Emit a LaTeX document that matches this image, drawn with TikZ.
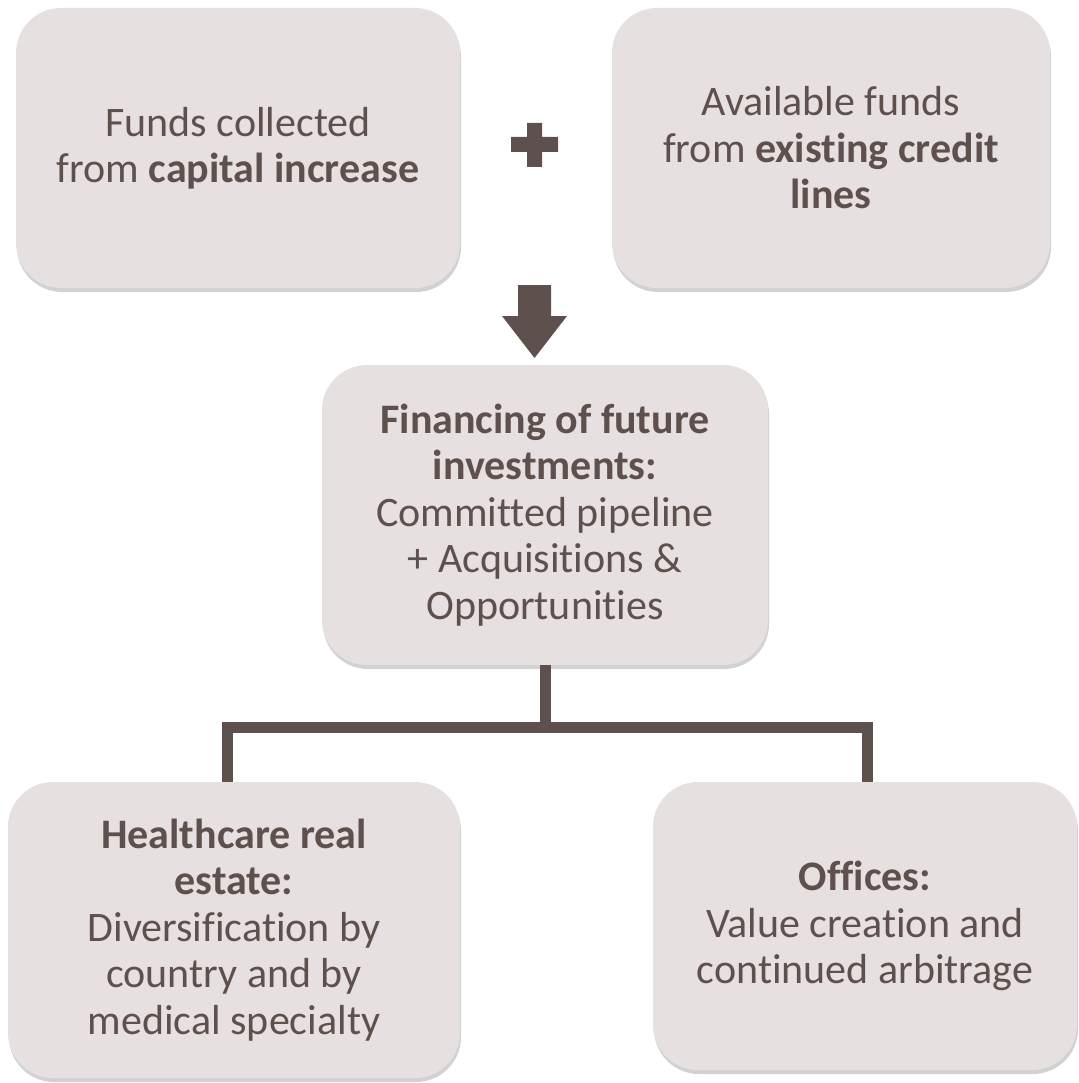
\documentclass[tikz,border=0pt]{standalone}
\usepackage{fontspec}
\setmainfont{Carlito}[Ligatures=NoCommon]
\usetikzlibrary{shadows}
\definecolor{boxfill}{HTML}{E6E0E0}
\definecolor{ink}{HTML}{5E504D}
\begin{document}
\begin{tikzpicture}[x=1pt,y=1pt,
  box/.style={rectangle, rounded corners=45pt, fill=boxfill, draw=none, text=ink,
    align=center, inner sep=0pt,
    font=\fontsize{42}{46.5}\selectfont,
    drop shadow={opacity=0.25, shadow xshift=1pt, shadow yshift=-4pt, fill=black!70}},
  conn/.style={draw=ink, line width=11pt, line join=miter, line cap=butt},
  sym/.style={fill=ink, draw=none}]
\useasboundingbox (0,0) rectangle (1078,-1083);
% boxes
\node[box, minimum width=444pt, minimum height=280pt] (A) at (238,-148)
  {Funds collected\\from \textbf{capital increase}};
\node[box, minimum width=438pt, minimum height=280pt] (B) at (831,-148)
  {Available funds\\from \textbf{existing credit}\\\textbf{lines}};
\node[box, minimum width=446pt, minimum height=300pt] (C) at (545,-515)
  {\textbf{Financing of future}\\\textbf{investments:}\\Committed pipeline\\+ Acquisitions \&\\Opportunities};
\node[box, minimum width=452pt, minimum height=296pt] (E) at (234,-930)
  {\textbf{Healthcare real}\\\textbf{estate:}\\Diversification by\\country and by\\medical specialty};
\node[box, minimum width=424pt, minimum height=288pt] (D) at (865,-926)
  {\textbf{Offices:}\\Value creation and\\continued arbitrage};
% plus sign
\fill[sym] (511,-137) -- (527,-137) -- (527,-123) -- (542,-123) -- (542,-137) -- (558,-137)
  -- (558,-152) -- (542,-152) -- (542,-167) -- (527,-167) -- (527,-152) -- (511,-152) -- cycle;
% down arrow
\fill[sym] (518,-285) -- (551,-285) -- (551,-316) -- (567,-316) -- (534.5,-358)
  -- (502,-316) -- (518,-316) -- cycle;
% tree connector
\coordinate (j) at ([yshift=-62.5pt]C.south);
\draw[conn] (C.south) -- (j);
\draw[conn] ([xshift=-7pt]E.north) |- (j) -| ([xshift=2pt]D.north);
\end{tikzpicture}
\end{document}
